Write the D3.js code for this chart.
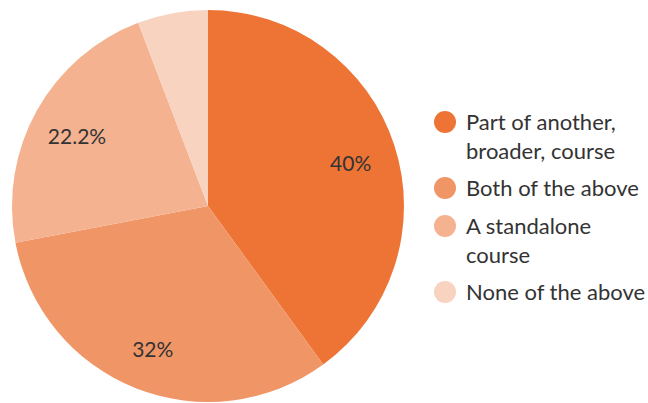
<!DOCTYPE html>
<html>
<head>
<meta charset="utf-8">
<script src="https://cdn.jsdelivr.net/npm/d3@7"></script>
<style>
  html, body { margin: 0; padding: 0; background: #fff; }
  svg { display: block; font-family: Lato, "Open Sans", sans-serif; }
</style>
</head>
<body>
<svg id="chart" width="648" height="403"></svg>
<script>
// Survey answer shares (percent)
const categories = ["Part of another, broader, course", "Both of the above", "A standalone course", "None of the above"];
const legendLines = [["Part of another,", "broader, course"], ["Both of the above"], ["A standalone", "course"], ["None of the above"]];
const values = [40, 32, 22.2, 5.8];
const labels = ["40%", "32%", "22.2%", ""];
const colors = ["#EE7436", "#F09565", "#F5B290", "#F8D3C0"];

const svg = d3.select("#chart");
const cx = 208, cy = 206, radius = 196;

const color = d3.scaleOrdinal().domain(categories).range(colors);

const pie = d3.pie().sort(null).value(d => d.value);
const data = pie(categories.map((c, i) => ({ cat: c, value: values[i], label: labels[i] })));

const arc = d3.arc().innerRadius(0).outerRadius(radius);
const labelArc = d3.arc().innerRadius(150).outerRadius(150);

const g = svg.append("g").attr("transform", `translate(${cx},${cy})`);

g.selectAll("path.slice")
  .data(data)
  .join("path")
  .attr("class", "slice")
  .attr("d", arc)
  .attr("fill", d => color(d.data.cat));

g.selectAll("text.val")
  .data(data.filter(d => d.data.label))
  .join("text")
  .attr("class", "val")
  .attr("transform", d => {
    const [x, y] = labelArc.centroid(d);
    return `translate(${x},${y + 3})`;
  })
  .attr("text-anchor", "middle")
  .attr("dominant-baseline", "central")
  .attr("font-size", 21)
  .attr("fill", "#333")
  .text(d => d.data.label);

// Legend
const legend = svg.append("g").attr("transform", "translate(445,0)");
const rowY = [122, 188, 226, 292];
const lineH = 29;

const rows = legend.selectAll("g.row")
  .data(categories)
  .join("g")
  .attr("class", "row")
  .attr("transform", (d, i) => `translate(0,${rowY[i]})`);

rows.append("circle")
  .attr("r", 11)
  .attr("fill", d => color(d));

rows.append("text")
  .attr("font-size", 22)
  .attr("fill", "#333")
  .selectAll("tspan")
  .data((d, i) => legendLines[i])
  .join("tspan")
  .attr("x", 21)
  .attr("y", (d, j) => 8 + j * lineH)
  .text(d => d);
</script>
</body>
</html>
